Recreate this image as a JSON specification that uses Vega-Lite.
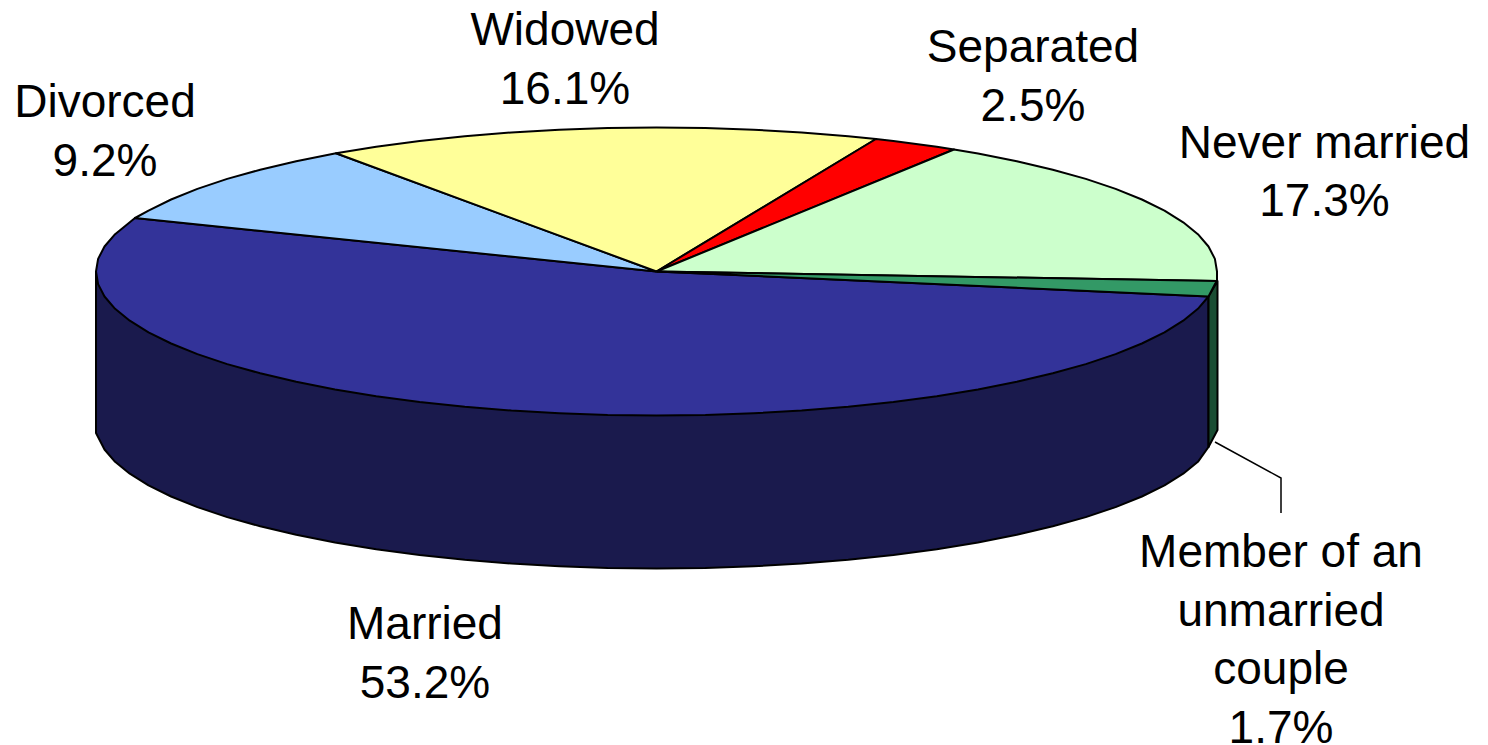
{"$schema":"https://vega.github.io/schema/vega-lite/v6.json","width":1488,"height":745,"padding":0,"autosize":{"type":"none"},"background":"white","config":{"view":{"stroke":null}},
"datasets":{
"side":[
{"part":"Married side","i":1,"x":96,"y":271.5},{"part":"Married side","i":2,"x":96,"y":433},{"part":"Married side","i":3,"x":104.5,"y":449.5},{"part":"Married side","i":4,"x":115.1,"y":461.8},{"part":"Married side","i":5,"x":129.8,"y":473.7},{"part":"Married side","i":6,"x":148.5,"y":485.4},{"part":"Married side","i":7,"x":171.1,"y":496.5},{"part":"Married side","i":8,"x":197.4,"y":507.1},{"part":"Married side","i":9,"x":227.2,"y":517.1},{"part":"Married side","i":10,"x":260.2,"y":526.3},{"part":"Married side","i":11,"x":296.2,"y":534.8},{"part":"Married side","i":12,"x":335,"y":542.5},{"part":"Married side","i":13,"x":376.2,"y":549.2},{"part":"Married side","i":14,"x":419.6,"y":555},{"part":"Married side","i":15,"x":464.8,"y":559.8},{"part":"Married side","i":16,"x":511.4,"y":563.6},{"part":"Married side","i":17,"x":559.2,"y":566.3},{"part":"Married side","i":18,"x":607.6,"y":568},{"part":"Married side","i":19,"x":656.5,"y":568.5},{"part":"Married side","i":20,"x":705.4,"y":568},{"part":"Married side","i":21,"x":753.8,"y":566.3},{"part":"Married side","i":22,"x":801.6,"y":563.6},{"part":"Married side","i":23,"x":848.2,"y":559.8},{"part":"Married side","i":24,"x":893.4,"y":555},{"part":"Married side","i":25,"x":936.8,"y":549.2},{"part":"Married side","i":26,"x":978,"y":542.5},{"part":"Married side","i":27,"x":1016.8,"y":534.8},{"part":"Married side","i":28,"x":1052.8,"y":526.3},{"part":"Married side","i":29,"x":1085.8,"y":517.1},{"part":"Married side","i":30,"x":1115.6,"y":507.1},{"part":"Married side","i":31,"x":1141.9,"y":496.5},{"part":"Married side","i":32,"x":1164.5,"y":485.4},{"part":"Married side","i":33,"x":1183.2,"y":473.7},{"part":"Married side","i":34,"x":1197.9,"y":461.8},{"part":"Married side","i":35,"x":1208.5,"y":447},{"part":"Married side","i":36,"x":1208.5,"y":296.5},{"part":"Married side","i":37,"x":656.5,"y":271.5},{"part":"Married side","i":38,"x":96,"y":271.5},
{"part":"Member side","i":1,"x":1208.5,"y":296.5},{"part":"Member side","i":2,"x":1217.5,"y":281},{"part":"Member side","i":3,"x":1217.5,"y":430},{"part":"Member side","i":4,"x":1208.5,"y":447},{"part":"Member side","i":5,"x":1208.5,"y":296.5}
],
"top":[
{"part":"Married","i":1,"x":656.5,"y":271.5},{"part":"Married","i":2,"x":1208.5,"y":296.5},{"part":"Married","i":3,"x":1197.9,"y":308.8},{"part":"Married","i":4,"x":1183.2,"y":320.7},{"part":"Married","i":5,"x":1164.5,"y":332.4},{"part":"Married","i":6,"x":1141.9,"y":343.5},{"part":"Married","i":7,"x":1115.6,"y":354.1},{"part":"Married","i":8,"x":1085.8,"y":364.1},{"part":"Married","i":9,"x":1052.8,"y":373.3},{"part":"Married","i":10,"x":1016.8,"y":381.8},{"part":"Married","i":11,"x":978,"y":389.5},{"part":"Married","i":12,"x":936.8,"y":396.2},{"part":"Married","i":13,"x":893.4,"y":402},{"part":"Married","i":14,"x":848.2,"y":406.8},{"part":"Married","i":15,"x":801.6,"y":410.6},{"part":"Married","i":16,"x":753.8,"y":413.3},{"part":"Married","i":17,"x":705.4,"y":415},{"part":"Married","i":18,"x":656.5,"y":415.5},{"part":"Married","i":19,"x":607.6,"y":415},{"part":"Married","i":20,"x":559.2,"y":413.3},{"part":"Married","i":21,"x":511.4,"y":410.6},{"part":"Married","i":22,"x":464.8,"y":406.8},{"part":"Married","i":23,"x":419.6,"y":402},{"part":"Married","i":24,"x":376.2,"y":396.2},{"part":"Married","i":25,"x":335,"y":389.5},{"part":"Married","i":26,"x":296.2,"y":381.8},{"part":"Married","i":27,"x":260.2,"y":373.3},{"part":"Married","i":28,"x":227.2,"y":364.1},{"part":"Married","i":29,"x":197.4,"y":354.1},{"part":"Married","i":30,"x":171.1,"y":343.5},{"part":"Married","i":31,"x":148.5,"y":332.4},{"part":"Married","i":32,"x":129.8,"y":320.7},{"part":"Married","i":33,"x":115.1,"y":308.8},{"part":"Married","i":34,"x":104.5,"y":296.5},{"part":"Married","i":35,"x":98.1,"y":284.1},{"part":"Married","i":36,"x":96,"y":271.5},{"part":"Married","i":37,"x":98.1,"y":258.9},{"part":"Married","i":38,"x":104.5,"y":246.5},{"part":"Married","i":39,"x":115.1,"y":234.2},{"part":"Married","i":40,"x":129.8,"y":222.3},{"part":"Married","i":41,"x":135,"y":218},{"part":"Married","i":42,"x":656.5,"y":271.5},
{"part":"Divorced","i":1,"x":656.5,"y":271.5},{"part":"Divorced","i":2,"x":135,"y":218},{"part":"Divorced","i":3,"x":148.5,"y":210.6},{"part":"Divorced","i":4,"x":171.1,"y":199.5},{"part":"Divorced","i":5,"x":197.4,"y":188.9},{"part":"Divorced","i":6,"x":227.2,"y":178.9},{"part":"Divorced","i":7,"x":260.2,"y":169.7},{"part":"Divorced","i":8,"x":296.2,"y":161.2},{"part":"Divorced","i":9,"x":336,"y":153.3},{"part":"Divorced","i":10,"x":656.5,"y":271.5},
{"part":"Widowed","i":1,"x":656.5,"y":271.5},{"part":"Widowed","i":2,"x":336,"y":153.3},{"part":"Widowed","i":3,"x":376.2,"y":146.8},{"part":"Widowed","i":4,"x":419.6,"y":141},{"part":"Widowed","i":5,"x":464.8,"y":136.2},{"part":"Widowed","i":6,"x":511.4,"y":132.4},{"part":"Widowed","i":7,"x":559.2,"y":129.7},{"part":"Widowed","i":8,"x":607.6,"y":128},{"part":"Widowed","i":9,"x":656.5,"y":127.5},{"part":"Widowed","i":10,"x":705.4,"y":128},{"part":"Widowed","i":11,"x":753.8,"y":129.7},{"part":"Widowed","i":12,"x":801.6,"y":132.4},{"part":"Widowed","i":13,"x":848.2,"y":136.2},{"part":"Widowed","i":14,"x":876,"y":139},{"part":"Widowed","i":15,"x":656.5,"y":271.5},
{"part":"Separated","i":1,"x":656.5,"y":271.5},{"part":"Separated","i":2,"x":876,"y":139},{"part":"Separated","i":3,"x":893.4,"y":141},{"part":"Separated","i":4,"x":936.8,"y":146.8},{"part":"Separated","i":5,"x":954,"y":149.5},{"part":"Separated","i":6,"x":656.5,"y":271.5},
{"part":"Never married","i":1,"x":656.5,"y":271.5},{"part":"Never married","i":2,"x":954,"y":149.5},{"part":"Never married","i":3,"x":978,"y":153.5},{"part":"Never married","i":4,"x":1016.8,"y":161.2},{"part":"Never married","i":5,"x":1052.8,"y":169.7},{"part":"Never married","i":6,"x":1085.8,"y":178.9},{"part":"Never married","i":7,"x":1115.6,"y":188.9},{"part":"Never married","i":8,"x":1141.9,"y":199.5},{"part":"Never married","i":9,"x":1164.5,"y":210.6},{"part":"Never married","i":10,"x":1183.2,"y":222.3},{"part":"Never married","i":11,"x":1197.9,"y":234.2},{"part":"Never married","i":12,"x":1208.5,"y":246.5},{"part":"Never married","i":13,"x":1214.9,"y":258.9},{"part":"Never married","i":14,"x":1217,"y":271.5},{"part":"Never married","i":15,"x":1217,"y":281},{"part":"Never married","i":16,"x":656.5,"y":271.5},
{"part":"Member","i":1,"x":656.5,"y":271.5},{"part":"Member","i":2,"x":1217,"y":281},{"part":"Member","i":3,"x":1214.9,"y":284.1},{"part":"Member","i":4,"x":1208.5,"y":296.5},{"part":"Member","i":5,"x":656.5,"y":271.5}
],
"leader":[{"i":1,"x":1215,"y":442},{"i":2,"x":1281,"y":478},{"i":3,"x":1281,"y":513}],
"labels":[
{"label":"Divorced\n9.2%","x":105,"y":103},{"label":"Widowed\n16.1%","x":565,"y":31},{"label":"Separated\n2.5%","x":1033,"y":48},{"label":"Never married\n17.3%","x":1324.5,"y":143.5},{"label":"Married\n53.2%","x":425,"y":625},{"label":"Member of an\nunmarried\ncouple\n1.7%","x":1281,"y":553}
]},
"encoding":{
"x":{"field":"x","type":"quantitative","scale":{"domain":[0,1488],"nice":false,"zero":false},"axis":null},
"y":{"field":"y","type":"quantitative","scale":{"domain":[745,0],"nice":false,"zero":false},"axis":null}
},
"layer":[
{"data":{"name":"side"},"mark":{"type":"line","stroke":"black","strokeWidth":2,"strokeJoin":"round"},"encoding":{"order":{"field":"i","type":"quantitative"},"detail":{"field":"part"},"fill":{"field":"part","type":"nominal","legend":null,"scale":{"domain":["Married side","Member side","Married","Divorced","Widowed","Separated","Never married","Member"],"range":["#1a1a4d","#1a4d33","#333399","#99ccff","#ffff99","#ff0000","#ccffcc","#339966"]}}}},
{"data":{"name":"top"},"mark":{"type":"line","stroke":"black","strokeWidth":2,"strokeJoin":"round"},"encoding":{"order":{"field":"i","type":"quantitative"},"detail":{"field":"part"},"fill":{"field":"part","type":"nominal","legend":null}}},
{"data":{"name":"leader"},"mark":{"type":"line","stroke":"black","strokeWidth":1.5},"encoding":{"order":{"field":"i","type":"quantitative"}}},
{"data":{"name":"labels"},"mark":{"type":"text","font":"Liberation Sans","fontSize":46,"lineBreak":"\n","lineHeight":58.5,"align":"center","baseline":"middle","fill":"black"},"encoding":{"text":{"field":"label","type":"nominal"}}}
]}
